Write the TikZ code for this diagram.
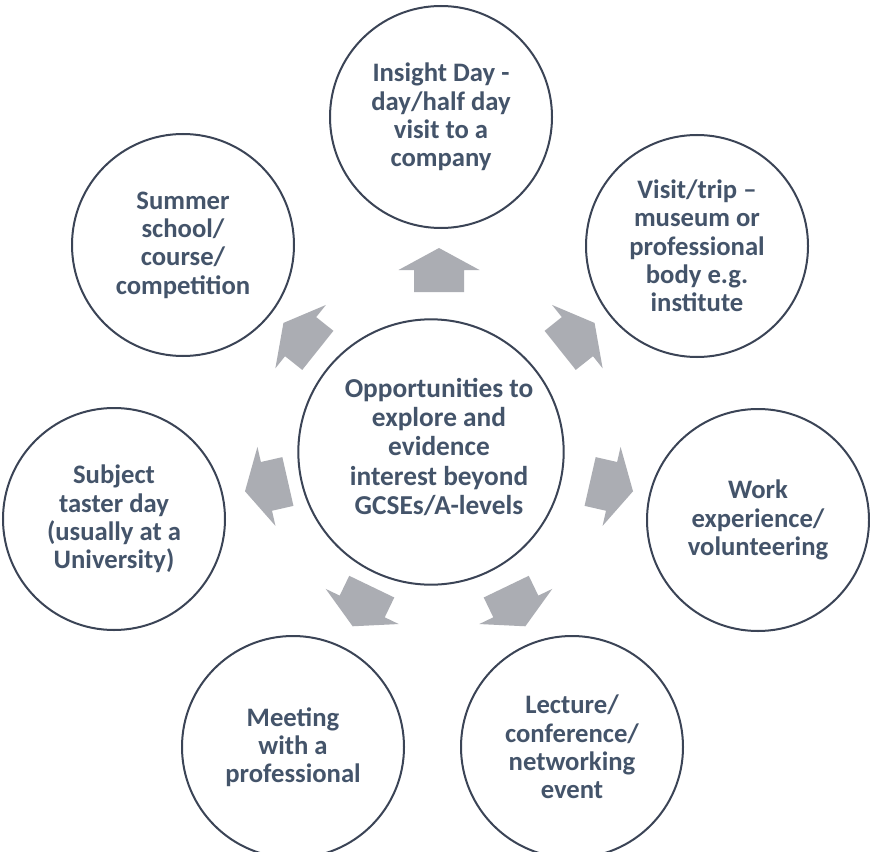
\documentclass[tikz,border=0pt]{standalone}
\usepackage{fontspec}
\setmainfont{Carlito}
\definecolor{txt}{HTML}{44546A}
\definecolor{ring}{HTML}{3B4456}
\definecolor{arr}{HTML}{ABADB3}
\begin{document}
\begin{tikzpicture}[x=0.75pt,y=0.75pt,
  bubble/.style={circle, draw=ring, line width=1.5pt, minimum size=166.5pt, inner sep=0pt,
    align=center, text=txt, font=\fontsize{20}{21.2}\selectfont\bfseries},
  hubring/.style={circle, draw=ring, line width=1.5pt, minimum size=199pt, inner sep=0pt},
  hubtext/.style={align=center, text=txt, font=\fontsize{20.5}{22}\selectfont\bfseries},
  blockarrow/.style={fill=arr, draw=none}]
\useasboundingbox (0,0) rectangle (870,-852);
\clip (0,0) rectangle (870,-852);
\fill[white] (0,0) rectangle (870,-852);

\coordinate (hub) at (439,-447);
\node[hubring] (c) at (431,-452) {};
\node[hubtext] (ct) at (439,-447) {Opportunities to\\explore and\\evidence\\interest beyond\\GCSEs/A-levels};

\node[bubble] (ins) at (441,-117) {Insight Day -\\day/half day\\visit to a\\company};
\node[bubble] (vis) at (697,-246) {Visit/trip –\\museum or\\professional\\body e.g.\\institute};
\node[bubble] (wrk) at (758,-520) {Work\\experience/\\volunteering};
\node[bubble] (lec) at (572,-747) {Lecture/\\conference/\\networking\\event};
\node[bubble] (mtg) at (293,-747) {Meeting\\with a\\professional};
\node[bubble] (sub) at (114,-519) {Subject\\taster day\\(usually at a\\University)};
\node[bubble] (sum) at (183,-245) {Summer\\school/\\course/\\competition};

\foreach \k in {0,...,6}{
  \pgfmathsetmacro{\ang}{90-\k*360/7}
  \begin{scope}[shift={(hub)}, rotate=\ang]
    \fill[blockarrow] (155,-25) -- (177,-25) -- (177,-40.5) -- (199,0) -- (177,40.5) -- (177,25) -- (155,25) -- cycle;
  \end{scope}
}
\end{tikzpicture}
\end{document}
